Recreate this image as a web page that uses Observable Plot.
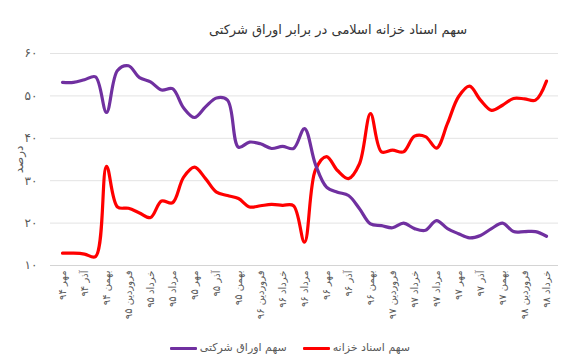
<!DOCTYPE html>
<html>
<head>
<meta charset="utf-8">
<script src="https://cdn.jsdelivr.net/npm/d3@7"></script>
<script src="https://cdn.jsdelivr.net/npm/@observablehq/plot@0.6"></script>
<style>
  html, body { margin: 0; padding: 0; background: #fff; }
  body { width: 576px; height: 363px; position: relative; overflow: hidden; font-family: "DejaVu Sans", sans-serif; }
  #title { position: absolute; left: 138px; width: 400px; top: 20px; text-align: center; font-size: 13px; color: #333; direction: rtl; line-height: 20px; }
  #chart { position: absolute; left: 0; top: 45px; }
  #legend { position: absolute; right: 166px; top: 340px; display: flex; direction: ltr; align-items: center; height: 16px; }
  .item { display: flex; align-items: center; margin-left: 16px; }
  .item:first-child { margin-left: 0; }
  .sw { width: 27px; height: 3px; border-radius: 1px; margin-right: 3px; }
  .lt { font-size: 11px; color: #595959; direction: rtl; white-space: nowrap; line-height: 16px; }
</style>
</head>
<body>
<div id="title">سهم اسناد خزانه اسلامی در برابر اوراق شرکتی</div>
<div id="chart"></div>
<div id="legend"></div>
<script>
const months = [
  "مهر ۹۴","آبان ۹۴","آذر ۹۴","دی ۹۴","بهمن ۹۴","اسفند ۹۴",
  "فروردین ۹۵","اردیبهشت ۹۵","خرداد ۹۵","تیر ۹۵","مرداد ۹۵","شهریور ۹۵","مهر ۹۵","آبان ۹۵","آذر ۹۵","دی ۹۵","بهمن ۹۵","اسفند ۹۵",
  "فروردین ۹۶","اردیبهشت ۹۶","خرداد ۹۶","تیر ۹۶","مرداد ۹۶","شهریور ۹۶","مهر ۹۶","آبان ۹۶","آذر ۹۶","دی ۹۶","بهمن ۹۶","اسفند ۹۶",
  "فروردین ۹۷","اردیبهشت ۹۷","خرداد ۹۷","تیر ۹۷","مرداد ۹۷","شهریور ۹۷","مهر ۹۷","آبان ۹۷","آذر ۹۷","دی ۹۷","بهمن ۹۷","اسفند ۹۷",
  "فروردین ۹۸","اردیبهشت ۹۸","خرداد ۹۸"
];
const treasuryShare = [
  12.9, 12.9, 12.7, 12.1, 33.4, 23.8,
  23.5, 22.4, 21.3, 25.2, 24.8, 30.8, 33.2, 30.5, 27.3, 26.5, 25.8, 23.8,
  24.1, 24.4, 24.2, 24.1, 15.5, 32.6, 35.7, 32.4, 30.5, 34.0, 45.8, 36.8,
  37.2, 36.8, 40.5, 40.4, 37.7, 43.5, 49.8, 52.3, 49.0, 46.6, 47.8, 49.4,
  49.3, 49.0, 53.5
];
const corporateShare = [
  53.2, 53.2, 53.8, 54.5, 46.1, 56.0,
  57.1, 54.3, 53.3, 51.4, 51.7, 47.2, 44.9, 47.4, 49.5, 49.0, 37.9, 39.1,
  38.7, 37.6, 38.1, 37.6, 42.3, 33.8, 28.5, 27.3, 26.5, 23.4, 19.8, 19.4,
  18.9, 20.0, 18.7, 18.3, 20.6, 18.7, 17.5, 16.5, 17.1, 18.7, 20.0, 18.0,
  18.0, 18.0, 16.9
];
const yTicks = [10, 20, 30, 40, 50, 60];
const yTickLabels = ["۱۰", "۲۰", "۳۰", "۴۰", "۵۰", "۶۰"];
const seriesNames = ["سهم اسناد خزانه", "سهم اوراق شرکتی"];
const seriesColors = ["#FF0000", "#7030A0"];
const xTickLabels = months.filter((d, i) => i % 2 === 0);

const rows = [];
months.forEach((m, i) => {
  rows.push({month: m, value: treasuryShare[i], series: seriesNames[0]});
  rows.push({month: m, value: corporateShare[i], series: seriesNames[1]});
});

const chart = Plot.plot({
  width: 576,
  height: 290,
  marginTop: 8,
  marginLeft: 50,
  marginRight: 18,
  marginBottom: 70,
  style: {fontFamily: "DejaVu Sans, sans-serif", fontSize: "10px", color: "#595959", background: "white", overflow: "visible"},
  x: {type: "point", domain: months, padding: 0.5},
  y: {domain: [10, 60]},
  color: {domain: seriesNames, range: seriesColors},
  marks: [
    Plot.gridY(yTicks, {stroke: "#e3e3e3", strokeOpacity: 1}),
    Plot.ruleY([10], {stroke: "#d4d4d4", strokeWidth: 1}),
    Plot.axisY({ticks: yTicks, tickSize: 0, tickPadding: 13, fontSize: 12,
      tickFormat: d => yTickLabels[yTicks.indexOf(d)],
      label: "درصد", labelAnchor: "center", labelArrow: "none", labelOffset: 36}),
    Plot.axisX({ticks: xTickLabels, tickSize: 0, tickPadding: 5, tickRotate: -90, label: null, fontSize: 10}),
    Plot.line(rows, {x: "month", y: "value", z: "series", stroke: "series", strokeWidth: 3.2, curve: "catmull-rom"})
  ]
});
document.getElementById("chart").appendChild(chart);

// legend: visual order left-to-right is purple then red (RTL reading order red first)
const legend = document.getElementById("legend");
[1, 0].forEach(k => {
  const item = document.createElement("div");
  item.className = "item";
  const sw = document.createElement("div");
  sw.className = "sw";
  sw.style.background = seriesColors[k];
  const lt = document.createElement("span");
  lt.className = "lt";
  lt.textContent = seriesNames[k];
  item.appendChild(sw);
  item.appendChild(lt);
  legend.appendChild(item);
});
</script>
</body>
</html>
